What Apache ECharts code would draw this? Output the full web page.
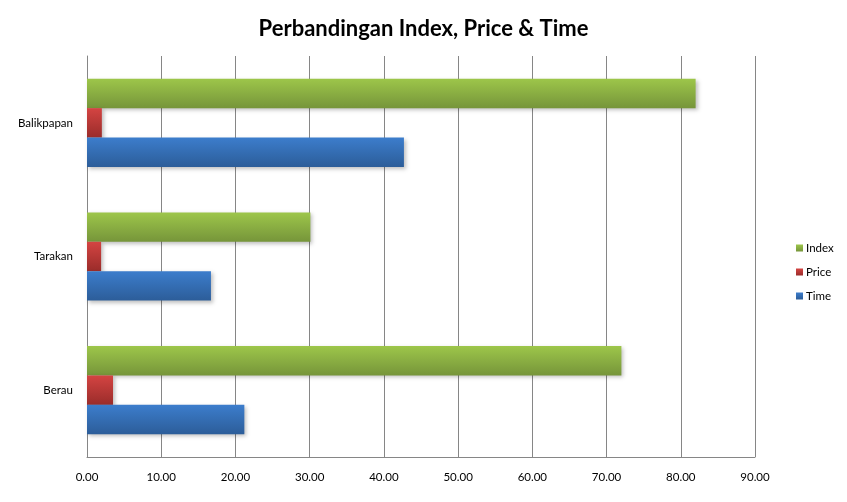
<!DOCTYPE html>
<html lang="en">
<head>
    <meta charset="UTF-8">
    <title>Perbandingan Index, Price & Time</title>
    <script src="https://cdn.jsdelivr.net/npm/echarts@6/dist/echarts.min.js"></script>
    <style>
        html, body { margin: 0; padding: 0; background: #fff; }
        #main { width: 847px; height: 502px; }
    </style>
</head>
<body>
<div id="main"></div>
<script>
    var categories = ['Berau', 'Tarakan', 'Balikpapan'];
    var indexValues = [72.0, 30.1, 82.0];
    var priceValues = [3.5, 1.9, 2.0];
    var timeValues = [21.2, 16.7, 42.7];
    var xTicks = { min: 0, max: 90, interval: 10 };

    var myChart = echarts.init(document.getElementById('main'));

    // excel-like vertical gradient for each bar
    function grad(top, bottom) {
        return new echarts.graphic.LinearGradient(0, 0, 0, 1, [
            { offset: 0, color: top },
            { offset: 1, color: bottom }
        ]);
    }

    function barSeries(name, data, top, bottom) {
        return {
            name: name,
            type: 'bar',
            data: data,
            barCategoryGap: '34%',
            barGap: '0%',
            itemStyle: {
                color: grad(top, bottom),
                shadowBlur: 4,
                shadowOffsetX: 2,
                shadowOffsetY: 2,
                shadowColor: 'rgba(0,0,0,0.25)'
            },
            emphasis: { disabled: true }
        };
    }

    var font = 'Lato, "Open Sans", sans-serif';

    var option = {
        animation: false,
        color: ['#9BBB59', '#C0504D', '#4F81BD'],
        title: {
            text: 'Perbandingan Index, Price & Time',
            left: 'center',
            top: 13,
            textStyle: { fontFamily: font, fontSize: 22, fontWeight: 'bold', color: '#000' }
        },
        legend: {
            orient: 'vertical',
            left: 791,
            top: 237,
            itemWidth: 7,
            itemHeight: 7,
            itemGap: 12,
            icon: 'rect',
            data: ['Index', 'Price', 'Time'],
            textStyle: { fontFamily: font, fontSize: 11.5, color: '#000', padding: [0, 0, 0, -2] }
        },
        grid: { left: 87, top: 56, width: 668, height: 401, containLabel: false },
        xAxis: {
            type: 'value',
            min: xTicks.min,
            max: xTicks.max,
            interval: xTicks.interval,
            axisLine: { show: true, lineStyle: { color: '#868686' } },
            axisTick: { show: false },
            axisLabel: {
                margin: 14,
                fontFamily: font,
                fontSize: 11.5,
                color: '#000',
                formatter: function (v) { return v.toFixed(2); }
            },
            splitLine: { show: true, lineStyle: { color: '#868686', width: 1 } }
        },
        yAxis: {
            type: 'category',
            data: categories,
            axisLine: { show: true, lineStyle: { color: '#868686' } },
            axisTick: { show: false },
            axisLabel: { margin: 14, fontFamily: font, fontSize: 11.5, color: '#000' },
            splitLine: { show: false }
        },
        series: [
            barSeries('Index', indexValues, '#9DC64A', '#76953A'),
            barSeries('Price', priceValues, '#D44442', '#9A2C2A'),
            barSeries('Time', timeValues, '#3C7DCC', '#2C5D99')
        ]
    };

    myChart.setOption(option);
</script>
</body>
</html>
